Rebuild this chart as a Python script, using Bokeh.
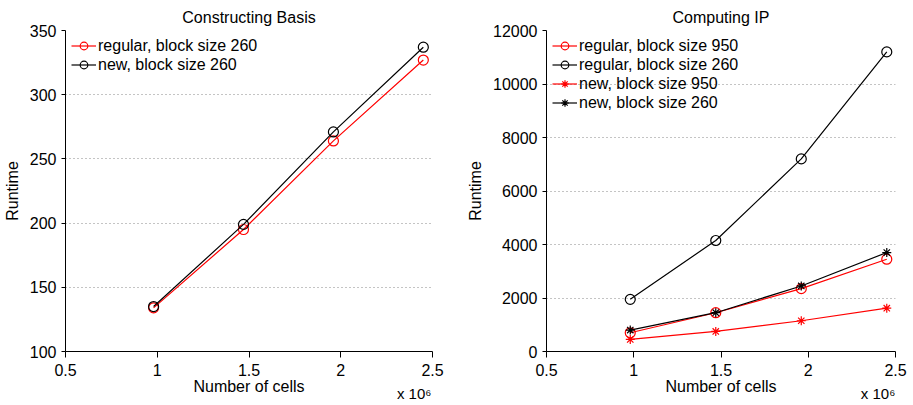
from bokeh.plotting import figure
from bokeh.layouts import row
from bokeh.models import (FixedTicker, CustomJSTickFormatter, Legend,
                          LegendItem, Range1d, LinearAxis)
from bokeh.embed import file_html
from bokeh.resources import INLINE

# ---- data ----
cells = [0.98, 1.47, 1.96, 2.45]  # number of cells, x 10^6
basis_regular_260 = [134, 195, 264, 327]
basis_new_260 = [135, 199, 271, 337]
ip_regular_950 = [700, 1450, 2350, 3450]
ip_regular_260 = [1950, 4150, 7200, 11200]
ip_new_950 = [450, 750, 1150, 1620]
ip_new_260 = [800, 1450, 2450, 3700]
x_ticks = [0.5, 1, 1.5, 2, 2.5]
basis_y_ticks = [100, 150, 200, 250, 300, 350]
ip_y_ticks = [0, 2000, 4000, 6000, 8000, 10000, 12000]
scale_note = "x 10\u2076"

FONT = "Liberation Sans"
RED = "#ff0000"
BLACK = "#000000"
NOTE_POS = 2.40


def make_fig(title, width, border_left, border_right, yr, yticks):
    p = figure(width=width, height=405, output_backend="svg", toolbar_location=None,
               x_range=Range1d(0.5, 2.5), y_range=Range1d(*yr),
               min_border_left=border_left, min_border_right=border_right,
               min_border_top=30, min_border_bottom=54, title=title)
    p.title.text_font = FONT
    p.title.text_font_size = "16px"
    p.title.text_font_style = "normal"
    p.title.text_color = BLACK
    p.title.align = "center"
    p.title.standoff = 10
    p.outline_line_color = None
    p.xgrid.grid_line_color = None
    p.ygrid.grid_line_color = "#888888"
    p.ygrid.grid_line_dash = "1 3"
    p.ygrid.grid_line_width = 1
    p.xaxis.ticker = FixedTicker(ticks=x_ticks)
    p.xaxis.formatter = CustomJSTickFormatter(code="return tick.toString();")
    p.yaxis.ticker = FixedTicker(ticks=yticks)
    p.yaxis.formatter = CustomJSTickFormatter(code="return tick.toString();")
    for ax in (p.xaxis[0], p.yaxis[0]):
        ax.axis_line_color = BLACK
        ax.major_tick_line_color = BLACK
        ax.major_tick_in = 0
        ax.minor_tick_line_color = None
        ax.major_label_text_font = FONT
        ax.major_label_text_font_size = "16px"
        ax.major_label_text_color = BLACK
        ax.axis_label_text_font = FONT
        ax.axis_label_text_font_size = "16px"
        ax.axis_label_text_font_style = "normal"
        ax.axis_label_text_color = BLACK
    p.xaxis.major_tick_out = 6
    p.yaxis.major_tick_out = 4
    p.xaxis.major_label_standoff = 6
    p.yaxis.axis_label = "Runtime"
    p.yaxis.axis_label_standoff = 6
    p.yaxis.major_label_standoff = 5

    # second (text-only) axis: axis label and the x 10^6 scale note
    note_ax = LinearAxis(ticker=FixedTicker(ticks=[NOTE_POS]),
                         major_label_overrides={NOTE_POS: scale_note},
                         axis_label="Number of cells")
    note_ax.axis_line_color = None
    note_ax.major_tick_line_color = None
    note_ax.minor_tick_line_color = None
    note_ax.major_tick_out = 0
    note_ax.major_tick_in = 0
    note_ax.major_label_standoff = 6
    note_ax.major_label_text_font = FONT
    note_ax.major_label_text_font_size = "15px"
    note_ax.major_label_text_color = BLACK
    note_ax.axis_label_text_font = FONT
    note_ax.axis_label_text_font_size = "16px"
    note_ax.axis_label_text_font_style = "normal"
    note_ax.axis_label_text_color = BLACK
    note_ax.axis_label_standoff = -27
    p.add_layout(note_ax, "below")
    return p


def add_series(p, ys, color, marker, size):
    lr = p.line(cells, ys, line_color=color, line_width=1.2)
    sr = p.scatter(cells, ys, marker=marker, size=size, line_color=color,
                   fill_color=None, line_width=1.2)
    return [lr, sr]


def style_legend(p, items):
    lg = Legend(items=items, location="top_left")
    lg.background_fill_alpha = 0
    lg.border_line_color = None
    lg.label_text_font = FONT
    lg.label_text_font_size = "16px"
    lg.label_text_color = BLACK
    lg.glyph_width = 25
    lg.glyph_height = 19
    lg.label_height = 19
    lg.label_standoff = 2
    lg.spacing = 0
    lg.margin = 6
    lg.padding = 6
    p.add_layout(lg)


p1 = make_fig("Constructing Basis", 460, 64, 28, (100, 350), basis_y_ticks)
r1 = add_series(p1, basis_regular_260, RED, "circle", 10)
r2 = add_series(p1, basis_new_260, BLACK, "circle", 10)
style_legend(p1, [LegendItem(label="regular, block size 260", renderers=r1),
                  LegendItem(label="new, block size 260", renderers=r2)])

p2 = make_fig("Computing IP", 453, 86, 18, (0, 12000), ip_y_ticks)
s1 = add_series(p2, ip_regular_950, RED, "circle", 10)
s2 = add_series(p2, ip_regular_260, BLACK, "circle", 10)
s3 = add_series(p2, ip_new_950, RED, "asterisk", 9)
s4 = add_series(p2, ip_new_260, BLACK, "asterisk", 9)
style_legend(p2, [LegendItem(label="regular, block size 950", renderers=s1),
                  LegendItem(label="regular, block size 260", renderers=s2),
                  LegendItem(label="new, block size 950", renderers=s3),
                  LegendItem(label="new, block size 260", renderers=s4)])

layout = row(p1, p2)
open("out.html", "w").write(file_html(layout, INLINE))
